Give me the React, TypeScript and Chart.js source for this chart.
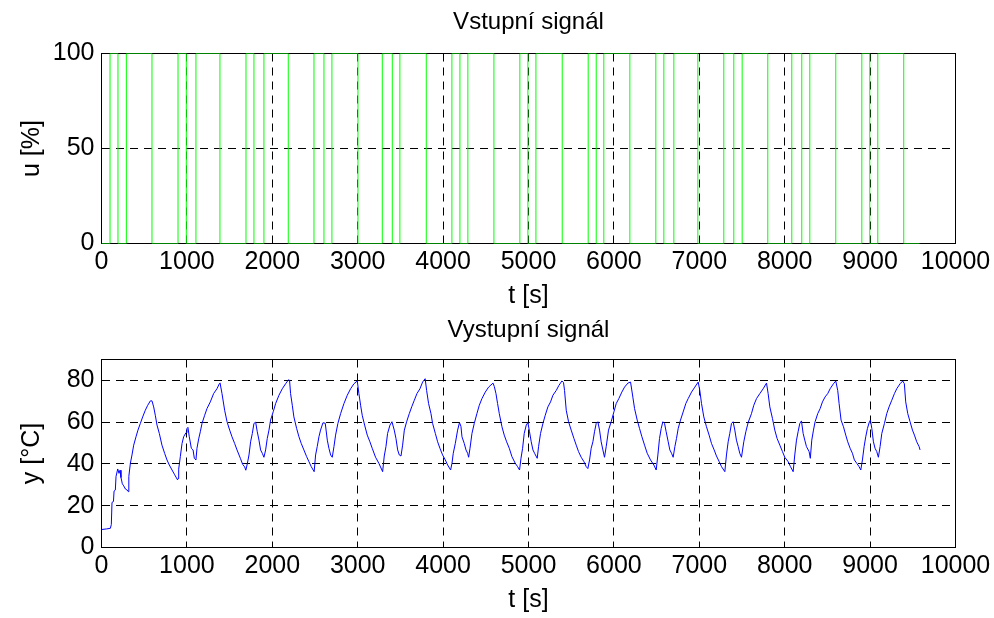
import React, { useEffect, useRef } from 'react';
import { Chart, registerables } from 'chart.js';

Chart.register(...registerables);

// Time axis (s)
const timeMax = 10000;
const timeStep = 1000;

// Input signal: switching instants (s) and the level held from each instant (%)
const uTimes = [
  0, 100, 193, 291, 591, 896, 993, 1106, 1387, 1692,
  1785, 1902, 2187, 2488, 2605, 2698, 3003, 3288, 3405, 3494,
  3803, 4103, 4197, 4290, 4595, 4899, 4993, 5087, 5395, 5699,
  5793, 5882, 6187, 6491, 6585, 6702, 6983, 7287, 7404, 7502,
  7802, 8083, 8200, 8294, 8598, 8903, 8996, 9090, 9394, 9578,
];
const uLevels = [
  0, 100, 0, 100, 0, 100, 0, 100, 0, 100,
  0, 100, 0, 100, 0, 100, 0, 100, 0, 100,
  0, 100, 0, 100, 0, 100, 0, 100, 0, 100,
  0, 100, 0, 100, 0, 100, 0, 100, 0, 100,
  0, 100, 0, 100, 0, 100, 0, 100, 0, 0,
];
const uTicks = [0, 50, 100];

// Output signal: sample times (s) and temperature (°C)
const yTimes = [
  0, 60, 104, 115, 123, 140, 147, 162, 170, 190, 205, 217, 228, 244, 260, 280, 300, 315, 320, 338,
  357, 377, 404, 427, 455, 482, 513, 540, 572, 591, 611, 630, 650, 677, 708, 740, 767, 794, 826, 857,
  890, 896, 904, 923, 943, 962, 990, 1001, 1012, 1028, 1052, 1072, 1087, 1106, 1118, 1138, 1157, 1177, 1208, 1235,
  1274, 1313, 1352, 1380, 1388, 1411, 1442, 1470, 1501, 1528, 1559, 1587, 1626, 1653, 1676, 1690, 1707, 1727, 1746, 1766,
  1785, 1805, 1824, 1844, 1863, 1883, 1902, 1922, 1941, 1961, 1980, 2011, 2039, 2078, 2117, 2156, 2190, 2202, 2214, 2234,
  2253, 2285, 2312, 2339, 2370, 2402, 2429, 2456, 2490, 2507, 2526, 2546, 2565, 2593, 2620, 2644, 2663, 2683, 2702, 2722,
  2741, 2768, 2800, 2839, 2878, 2917, 2956, 2995, 3014, 3034, 3053, 3081, 3112, 3143, 3170, 3209, 3248, 3292, 3311, 3331,
  3350, 3378, 3401, 3428, 3448, 3468, 3487, 3507, 3526, 3546, 3573, 3604, 3635, 3663, 3694, 3729, 3760, 3790, 3807, 3830,
  3858, 3877, 3909, 3936, 3963, 3994, 4026, 4053, 4088, 4104, 4119, 4143, 4170, 4192, 4209, 4221, 4248, 4268, 4287, 4299,
  4315, 4338, 4365, 4396, 4424, 4455, 4494, 4533, 4585, 4600, 4619, 4638, 4658, 4689, 4716, 4744, 4775, 4806, 4845, 4872,
  4895, 4912, 4931, 4950, 4974, 4993, 5012, 5032, 5052, 5071, 5102, 5118, 5141, 5169, 5196, 5227, 5258, 5286, 5325, 5356,
  5391, 5410, 5422, 5442, 5469, 5500, 5532, 5559, 5586, 5617, 5649, 5676, 5695, 5715, 5734, 5754, 5773, 5793, 5812, 5832,
  5851, 5871, 5890, 5910, 5937, 5968, 6000, 6027, 6058, 6093, 6125, 6164, 6195, 6222, 6242, 6273, 6300, 6328, 6359, 6390,
  6429, 6468, 6495, 6515, 6534, 6554, 6573, 6593, 6612, 6636, 6655, 6675, 6694, 6714, 6733, 6753, 6780, 6811, 6842, 6870,
  6909, 6948, 6987, 7006, 7026, 7053, 7084, 7115, 7143, 7174, 7201, 7233, 7260, 7299, 7318, 7338, 7357, 7377, 7396, 7416,
  7435, 7455, 7474, 7494, 7521, 7545, 7572, 7611, 7638, 7670, 7709, 7748, 7787, 7806, 7826, 7857, 7884, 7911, 7943, 7974,
  8001, 8040, 8068, 8099, 8118, 8138, 8157, 8177, 8196, 8216, 8235, 8255, 8286, 8300, 8317, 8337, 8356, 8387, 8415, 8442,
  8473, 8504, 8532, 8571, 8598, 8621, 8637, 8660, 8688, 8715, 8738, 8766, 8793, 8816, 8844, 8871, 8891, 8910, 8930, 8949,
  8969, 8992, 9004, 9020, 9039, 9058, 9078, 9097, 9117, 9137, 9168, 9195, 9222, 9254, 9285, 9312, 9351, 9382, 9401, 9417,
  9441, 9468, 9496, 9519, 9546, 9574, 9585,
];
const yValues = [
  8.6, 8.9, 9.2, 11, 21.6, 22, 27, 27.5, 34, 37.6, 35.5, 37, 33.5, 30.5, 29.5, 28, 27.5, 26.7, 34, 40.3,
  44.3, 49, 53, 56.2, 59.4, 62.5, 65.7, 68, 70.2, 70.2, 67.3, 63.3, 58.6, 54.6, 49, 45, 41.9, 39.5, 37.1, 34.8,
  32.4, 33, 37.5, 43.5, 49.8, 53, 55, 57, 57.5, 53, 47.5, 46.7, 42.7, 41.9, 47.5, 52, 55.4, 59.4, 63.3, 66.5,
  69.7, 73.7, 76, 78.4, 78.8, 73.7, 65.7, 60.2, 56.2, 53, 49.8, 46.7, 42.7, 39.8, 38.6, 37, 40, 44.3, 50.6, 54.6,
  59.4, 60, 55.4, 51.4, 46.7, 45.1, 43.2, 46.7, 52.2, 56.2, 61, 65, 68.9, 72.9, 76, 78.4, 80.3, 80, 73.7, 68.1,
  62.5, 57, 53, 49.8, 46.7, 43.5, 41.1, 38.7, 36.3, 44.3, 48.3, 53, 56.2, 59.7, 59.5, 51.4, 47.5, 44.3, 43.2, 48.3,
  53.8, 59.4, 64.1, 68.9, 72.9, 76, 78.4, 79.7, 73.7, 68.1, 63.3, 58.6, 53.8, 50.6, 47.5, 43.2, 40.3, 36.3, 43.8, 48.3,
  54.6, 58.6, 60.2, 56.2, 52.2, 46.7, 44.3, 43.8, 49, 56.2, 60.2, 64.1, 67.6, 70.5, 73.7, 76, 79.2, 80.8, 75.2, 68.9,
  64.1, 59.4, 54.6, 50.6, 47.5, 44.3, 41.9, 39.5, 37.1, 40.3, 45.1, 49.8, 56.2, 59.8, 58, 53, 49.8, 46.7, 45.1, 43.2,
  47.5, 54.6, 59.4, 64.1, 68.1, 71.3, 74.4, 76.8, 78.7, 77, 73.7, 68.9, 64.1, 57.8, 53.8, 50.6, 47.5, 43.5, 40.3, 38.7,
  37.1, 42.7, 47.5, 54.6, 58.6, 59.8, 55.4, 50.6, 46.7, 45.1, 42.7, 48.3, 54.6, 59.4, 63.3, 67.3, 69.7, 72.9, 75.2, 77.6,
  79.7, 79, 75.2, 65.7, 60.2, 56.2, 52.2, 49, 45.9, 43.2, 41.1, 38.7, 37.8, 41.9, 47.5, 50.6, 55.4, 59.4, 60.2, 56.2,
  50.6, 46.7, 43.2, 48.3, 56.2, 60.2, 64.9, 68.9, 71.3, 74.4, 76.8, 78.7, 79.2, 72, 66.5, 61, 57, 53, 49, 45.1,
  41.9, 39.5, 37.1, 44.3, 52.2, 57, 60.2, 59.4, 55.4, 50.6, 46.7, 45.1, 43.2, 48.3, 52.2, 57, 61, 64.9, 68.9, 71.3,
  74.4, 76.8, 79.2, 75.2, 68.9, 62.5, 57.8, 53.8, 49.8, 46.7, 43.8, 41.1, 38.7, 36.3, 44.3, 50.6, 54.6, 59.4, 60.2, 56.2,
  51.4, 48.3, 45.1, 43.2, 50.6, 55.4, 59.8, 64.1, 68.1, 71.3, 73.7, 76, 78.7, 73.7, 67.3, 61.7, 56.2, 52.2, 49, 45.9,
  43.2, 41.1, 38.7, 36.3, 44.3, 51.4, 55.4, 59.4, 60.6, 54.6, 51.4, 48.3, 45.9, 42.7, 51.4, 56.2, 60.2, 64.1, 66.5, 69.7,
  72.1, 73.7, 76, 78.4, 79.7, 75.2, 68.9, 61, 57.8, 53.8, 50.6, 47.5, 45.1, 41.9, 40.3, 38.7, 37.1, 41.9, 48.3, 53,
  57, 60.2, 61, 57, 50.6, 47.5, 45.9, 43.2, 48.3, 54.6, 59.4, 64.1, 67.3, 70.5, 73.7, 76, 78.4, 79.7, 78.4, 69.7,
  64.1, 60.2, 56.2, 53.8, 50.6, 48.3, 46.7,
];
const yTicks = [0, 20, 40, 60, 80];
const yAxisMax = 90;

const FONT_FAMILY = "'Liberation Sans', Arial, Helvetica, sans-serif";
const AXIS_FONT_SIZE = 25;
const TITLE_FONT_SIZE = 24;
const PANEL_W = 994;
const PANEL_H = 309;

// Solid frame around the plotting area, drawn over the dashed grid
const axesBox = {
  id: 'axesBox',
  beforeDatasetsDraw(chart: any) {
    const { ctx, chartArea: a } = chart;
    ctx.save();
    ctx.strokeStyle = '#000';
    ctx.lineWidth = 1;
    ctx.setLineDash([]);
    ctx.strokeRect(a.left, a.top, a.right - a.left, a.bottom - a.top);
    ctx.restore();
  },
};

type PanelCfg = {
  title: string;
  yTitle: string;
  yMax: number;
  yTickValues: number[];
  titleTop: number;
  titleBottom: number;
  xHeight: number;
  xTitleBottom: number;
  color: string;
  stepped: boolean;
  points: { x: number; y: number }[];
};

const plainNumber = (v: any) => String(v);

function buildConfig(cfg: PanelCfg): any {
  const font = { family: FONT_FAMILY, size: AXIS_FONT_SIZE, lineHeight: 1 };
  const titleFont = { family: FONT_FAMILY, size: TITLE_FONT_SIZE, lineHeight: 1, weight: 'normal' };
  const grid = { color: '#000', lineWidth: 1, drawTicks: false };
  const border = { display: false, dash: [8, 6] };
  return {
    type: 'line',
    data: {
      datasets: [
        {
          data: cfg.points,
          borderColor: cfg.color,
          borderWidth: 1,
          pointRadius: 0,
          fill: false,
          tension: 0,
          stepped: cfg.stepped,
        },
      ],
    },
    options: {
      responsive: false,
      maintainAspectRatio: false,
      animation: false,
      events: [],
      layout: { padding: { left: 0.5, right: 38.5, top: 0, bottom: 0 } },
      plugins: {
        legend: { display: false },
        tooltip: { enabled: false },
        title: {
          display: true,
          text: cfg.title,
          color: '#000',
          fullSize: false,
          font: titleFont,
          padding: { top: cfg.titleTop, bottom: cfg.titleBottom },
        },
      },
      scales: {
        x: {
          type: 'linear',
          min: 0,
          max: timeMax,
          ticks: {
            stepSize: timeStep,
            color: '#000',
            font,
            padding: 6,
            autoSkip: false,
            maxRotation: 0,
            callback: plainNumber,
          },
          grid,
          border,
          title: {
            display: true,
            text: 't [s]',
            color: '#000',
            font,
            padding: { top: 0, bottom: cfg.xTitleBottom },
          },
          afterFit: (s: any) => {
            s.height = cfg.xHeight;
            s.paddingLeft = 0;
            s.paddingRight = 0;
          },
        },
        y: {
          type: 'linear',
          min: 0,
          max: cfg.yMax,
          ticks: { color: '#000', font, padding: 7, callback: plainNumber },
          grid,
          border,
          title: {
            display: true,
            text: cfg.yTitle,
            color: '#000',
            font,
            padding: { top: 19, bottom: 0 },
          },
          afterBuildTicks: (s: any) => {
            s.ticks = cfg.yTickValues.map((v) => ({ value: v }));
          },
          afterFit: (s: any) => {
            s.width = 101;
          },
        },
      },
    },
    plugins: [axesBox],
  };
}

function Panel({ cfg, top }: { cfg: PanelCfg; top: number }) {
  const ref = useRef<HTMLCanvasElement | null>(null);
  useEffect(() => {
    if (!ref.current) return;
    const chart = new Chart(ref.current, buildConfig(cfg));
    return () => chart.destroy();
  }, []);
  return (
    <canvas
      ref={ref}
      width={PANEL_W}
      height={PANEL_H}
      style={{ position: 'absolute', left: 0, top, width: PANEL_W, height: PANEL_H, display: 'block' }}
    />
  );
}

const inputPanel: PanelCfg = {
  title: 'Vstupní signál',
  yTitle: 'u [%]',
  yMax: 100,
  yTickValues: uTicks,
  titleTop: 10,
  titleBottom: 19.5,
  xHeight: 65.5,
  xTitleBottom: 0.5,
  color: '#00ff00',
  stepped: true,
  points: uTimes.map((t, i) => ({ x: t, y: uLevels[i] })),
};

const outputPanel: PanelCfg = {
  title: 'Vystupní signál',
  yTitle: 'y [°C]',
  yMax: yAxisMax,
  yTickValues: yTicks,
  titleTop: 9,
  titleBottom: 17.5,
  xHeight: 70.5,
  xTitleBottom: 5.5,
  color: '#0000ff',
  stepped: false,
  points: yTimes.map((t, i) => ({ x: t, y: yValues[i] })),
};

export default function App() {
  return (
    <div
      style={{
        position: 'absolute',
        left: 0,
        top: 0,
        width: PANEL_W,
        height: PANEL_H * 2,
        background: '#fff',
        overflow: 'hidden',
      }}
    >
      <Panel cfg={inputPanel} top={0} />
      <Panel cfg={outputPanel} top={PANEL_H} />
    </div>
  );
}
